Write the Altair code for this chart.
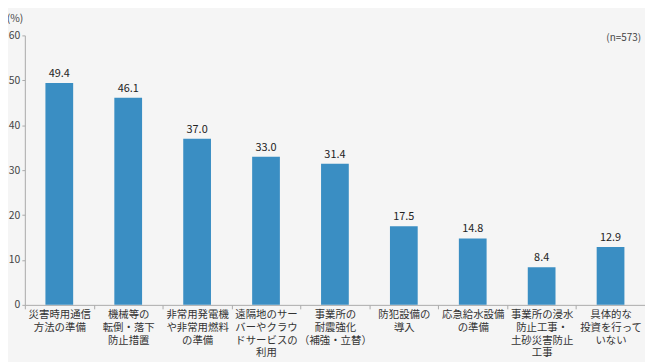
import altair as alt
import pandas as pd

categories = [
    "災害時用通信\n方法の準備",
    "機械等の\n転倒・落下\n防止措置",
    "非常用発電機\nや非常用燃料\nの準備",
    "遠隔地のサー\nバーやクラウ\nドサービスの\n利用",
    "事業所の\n耐震強化\n（補強・立替）",
    "防犯設備の\n導入",
    "応急給水設備\nの準備",
    "事業所の浸水\n防止工事・\n土砂災害防止\n工事",
    "具体的な\n投資を行って\nいない",
]
values = [49.4, 46.1, 37.0, 33.0, 31.4, 17.5, 14.8, 8.4, 12.9]
y_ticks = [0, 10, 20, 30, 40, 50, 60]

df = pd.DataFrame({"cat": categories, "val": values})

FONT = "Noto Sans CJK JP"
W, H = 626, 272

x = alt.X(
    "cat:N",
    sort=categories,
    scale=alt.Scale(paddingInner=0, paddingOuter=0),
    axis=alt.Axis(
        title=None,
        labelAngle=0,
        labelExpr="split(datum.label, '\\n')",
        labelFont=FONT,
        labelFontSize=10.5,
        labelColor="#333333",
        labelLineHeight=12.8,
        labelPadding=1,
        labelBaseline="top",
        tickBand="extent",
        tickColor="#aaaaaa",
        tickSize=4,
        domainColor="#aaaaaa",
        grid=False,
    ),
)

y = alt.Y(
    "val:Q",
    scale=alt.Scale(domain=[0, 60], nice=False),
    axis=alt.Axis(
        title=None,
        values=y_ticks,
        labelFont=FONT,
        labelFontSize=10.5,
        labelColor="#444444",
        labelPadding=2,
        tickColor="#aaaaaa",
        tickSize=3,
        domainColor="#aaaaaa",
        grid=False,
    ),
)

bars = alt.Chart(df).mark_bar(color="#3a8ec3", size=28).encode(x=x, y=y)

labels = alt.Chart(df).mark_text(
    font=FONT, fontSize=11, color="#222222", baseline="bottom", dy=-4
).encode(x=alt.X("cat:N", sort=categories), y="val:Q", text=alt.Text("val:Q", format=".1f"))

unit = alt.Chart(pd.DataFrame({"t": ["(%)"]})).mark_text(
    font=FONT, fontSize=10.5, color="#444444", align="center", baseline="middle"
).encode(x=alt.value(-10), y=alt.value(-17), text="t:N")

n_note = alt.Chart(pd.DataFrame({"t": ["(n=573)"]})).mark_text(
    font=FONT, fontSize=10, color="#444444", align="right", baseline="middle"
).encode(x=alt.value(622), y=alt.value(3), text="t:N")

chart = (
    alt.layer(bars, labels, unit, n_note)
    .properties(
        width=W,
        height=H,
        autosize=alt.AutoSizeParams(type="none"),
        padding={"left": 17, "top": 26, "right": 0, "bottom": 56},
        background="#f5f5f5",
    )
    .configure_view(stroke=None)
)

chart.save("out.html", embed_options={"renderer": "svg", "actions": False})
